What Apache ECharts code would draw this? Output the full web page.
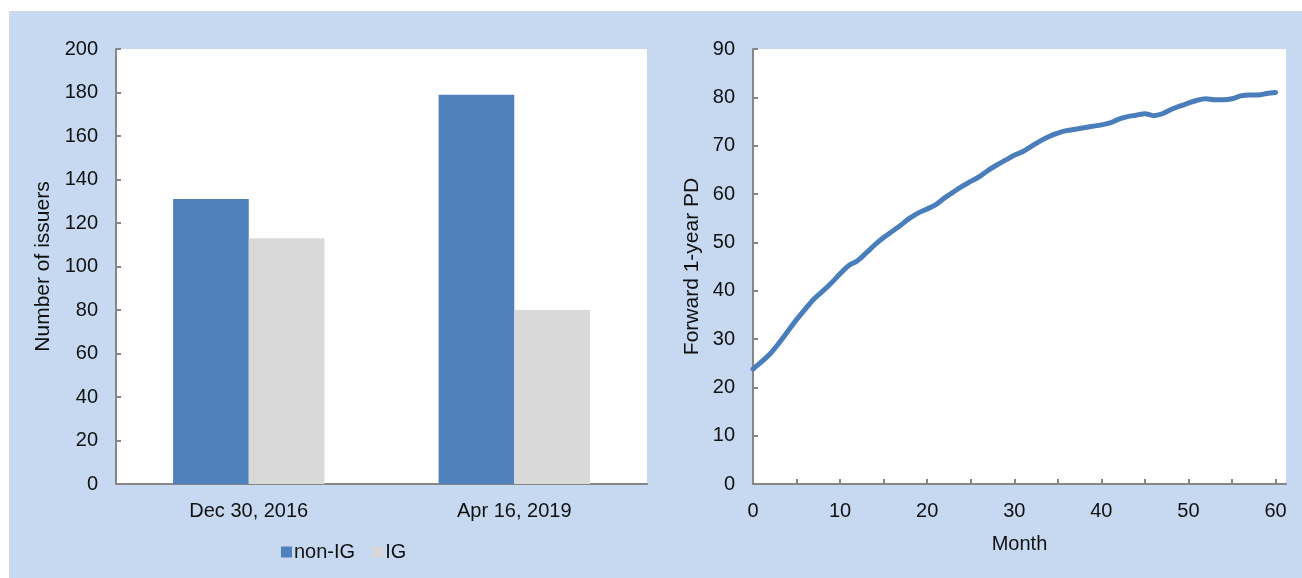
<!DOCTYPE html>
<html lang="en">
<head>
    <meta charset="utf-8" />
    <title>Issuers and forward PD</title>
    <script src="https://cdn.jsdelivr.net/npm/echarts@6/dist/echarts.min.js"></script>
    <style>
        body { margin: 0; background: #fff; }
        #panel { position: absolute; left: 9px; top: 11px; right: 0; bottom: 0; background: #c6d9f0;
                 border-left: 1px solid #d4d8dc; border-top: 1px solid #d4d8dc; }
        #main { position: absolute; left: 0; top: 0; width: 1302px; height: 578px; }
    </style>
</head>
<body>
    <div id="panel"></div>
    <div id="main"></div>
    <script type="text/javascript">

        // left panel: number of issuers
        var dates = ['Dec 30, 2016', 'Apr 16, 2019'];
        var nonIG = [131, 179];
        var ig = [113, 80];
        var issuerTicks = [0, 20, 40, 60, 80, 100, 120, 140, 160, 180, 200];

        // right panel: forward 1-year PD by month 0..60
        var months = [];
        for (var i = 0; i <= 60; i++) months.push(i);
        var fwdPD = [23.8, 25.3, 27.0, 29.2, 31.6, 34.0, 36.2, 38.3, 39.9, 41.6,
                     43.5, 45.2, 46.2, 47.8, 49.5, 51.0, 52.3, 53.6, 55.0, 56.1,
                     56.9, 57.8, 59.2, 60.4, 61.6, 62.6, 63.6, 64.9, 66.0, 67.0,
                     68.0, 68.8, 69.9, 71.0, 71.9, 72.6, 73.1, 73.4, 73.7, 74.0,
                     74.3, 74.7, 75.5, 76.0, 76.3, 76.6, 76.2, 76.6, 77.5, 78.2,
                     78.8, 79.4, 79.7, 79.5, 79.5, 79.7, 80.3, 80.5, 80.5, 80.8,
                     81.0];
        var monthLabels = [0, 10, 20, 30, 40, 50, 60];
        var monthTicks = [0, 5, 10, 15, 20, 25, 30, 35, 40, 45, 50, 55, 60];

        var font = 'Liberation Sans, Arial, sans-serif';
        var axisGray = '#868686';

        var myChart = echarts.init(document.getElementById('main'));

        var valueAxis = function (gridIndex, max, interval, name, gap) {
            return {
                type: 'value', gridIndex: gridIndex, min: 0, max: max, interval: interval,
                name: name, nameLocation: 'middle', nameGap: gap,
                nameTextStyle: { fontFamily: font, fontSize: 21, color: '#111' },
                axisLine: { show: true, lineStyle: { color: axisGray, width: 2 } },
                axisTick: { show: true, inside: true, length: 5, lineStyle: { color: axisGray, width: 2 } },
                axisLabel: { fontFamily: font, fontSize: 20, color: '#111', margin: 18 },
                splitLine: { show: false }
            };
        };

        option = {
            animation: false,
            grid: [
                { left: 116, top: 49, width: 531, height: 435, show: true, backgroundColor: '#fff', borderWidth: 0 },
                { left: 753, top: 49, width: 533, height: 435, show: true, backgroundColor: '#fff', borderWidth: 0 }
            ],
            legend: {
                data: ['non-IG', 'IG'], left: 276, top: 537, icon: 'rect',
                itemWidth: 11, itemHeight: 11, itemGap: 17,
                textStyle: { fontFamily: font, fontSize: 20, color: '#111', padding: [0, 0, 0, -3] }
            },
            xAxis: [
                {
                    type: 'category', gridIndex: 0, data: dates,
                    axisLine: { lineStyle: { color: axisGray, width: 2 } },
                    axisTick: { inside: true, length: 5, lineStyle: { color: axisGray, width: 2 } },
                    axisLabel: { fontFamily: font, fontSize: 20, color: '#111', margin: 17 }
                },
                {
                    type: 'value', gridIndex: 1, min: 0, max: 61.2, interval: 5,
                    name: 'Month', nameLocation: 'middle', nameGap: 50,
                    nameTextStyle: { fontFamily: font, fontSize: 20, color: '#111' },
                    axisLine: { lineStyle: { color: axisGray, width: 2 } },
                    axisTick: { inside: true, length: 5, customValues: monthTicks, lineStyle: { color: axisGray, width: 2 } },
                    axisLabel: { fontFamily: font, fontSize: 20, color: '#111', margin: 17, customValues: monthLabels },
                    splitLine: { show: false }
                }
            ],
            yAxis: [
                valueAxis(0, issuerTicks[issuerTicks.length - 1], 20, 'Number of issuers', 62),
                valueAxis(1, 90, 10, 'Forward 1-year PD', 50)
            ],
            series: [
                {
                    name: 'non-IG', type: 'bar', xAxisIndex: 0, yAxisIndex: 0, data: nonIG,
                    barGap: '0%', barCategoryGap: '43%', itemStyle: { color: '#4f81bd' }
                },
                {
                    name: 'IG', type: 'bar', xAxisIndex: 0, yAxisIndex: 0, data: ig,
                    itemStyle: { color: '#d9d9d9' }
                },
                {
                    name: 'Forward PD', type: 'line', xAxisIndex: 1, yAxisIndex: 1,
                    data: months.map(function (m, k) { return [m, fwdPD[k]]; }),
                    showSymbol: false, smooth: 0.3,
                    lineStyle: { color: '#4a7ebb', width: 5, cap: 'round', join: 'round' }
                }
            ]
        };

        myChart.setOption(option);

    </script>
</body>
</html>
